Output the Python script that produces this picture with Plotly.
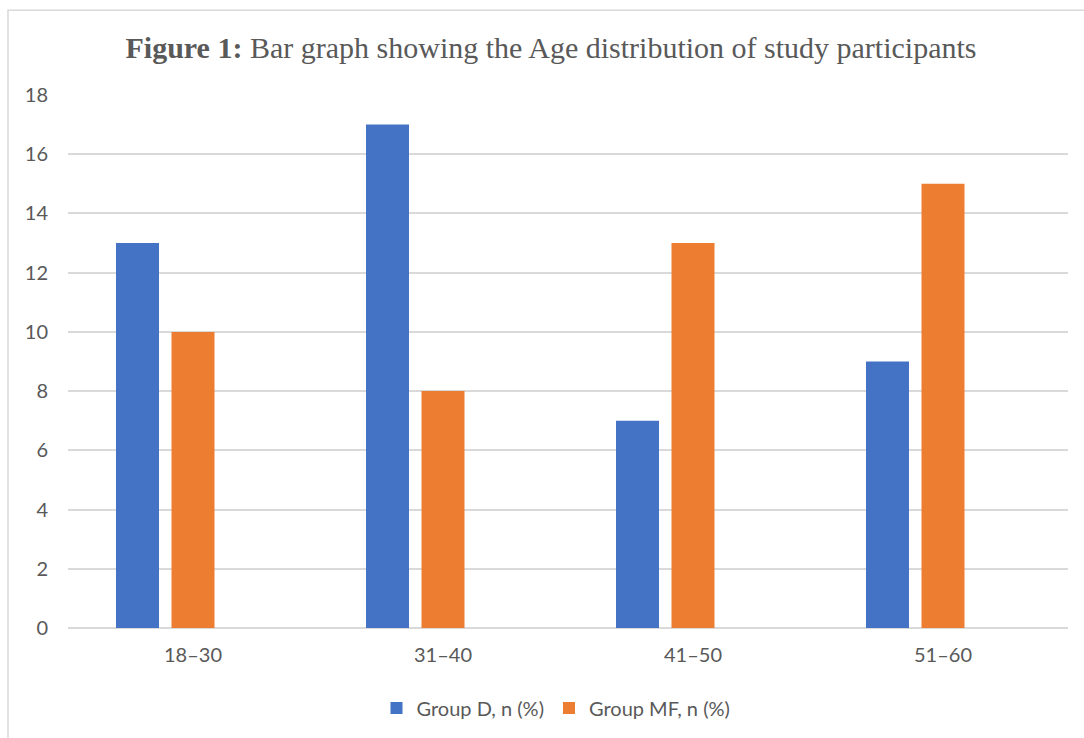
import plotly.graph_objects as go

# Age bands and participant counts per group
age_groups = ["18–30", "31–40", "41–50", "51–60"]
group_d = [13, 17, 7, 9]
group_mf = [10, 8, 13, 15]
y_ticks = [0, 2, 4, 6, 8, 10, 12, 14, 16, 18]

TEXT = "#595959"
GRID = "#d9d9d9"
BAR_W = 0.172

fig = go.Figure()
fig.add_trace(go.Bar(
    x=age_groups, y=group_d, name="Group D, n (%)",
    marker=dict(color="#4472C4", line=dict(width=0)),
    width=BAR_W, offset=-0.308,
))
fig.add_trace(go.Bar(
    x=age_groups, y=group_mf, name="Group MF, n (%)",
    marker=dict(color="#ED7D31", line=dict(width=0)),
    width=BAR_W, offset=-0.086,
))

fig.update_layout(
    width=1084, height=738,
    margin=dict(l=68, r=16, t=95, b=109),
    paper_bgcolor="white", plot_bgcolor="white",
    title=dict(
        text="<b>Figure 1:</b> Bar graph showing the Age distribution of study participants",
        font=dict(family="Liberation Serif", size=30, color=TEXT),
        x=0.483, xanchor="center", xref="paper",
        y=0.936, yanchor="middle", yref="container",
    ),
    font=dict(family="Lato", size=20, color=TEXT),
    showlegend=True,
    legend=dict(
        orientation="h", x=0.488, xanchor="center",
        y=-0.148, yanchor="middle",
        font=dict(family="Lato", size=20, color=TEXT),
        itemwidth=30, traceorder="normal",
    ),
    xaxis=dict(
        showgrid=False, showline=False, ticks="",
        tickfont=dict(family="Lato", size=20, color=TEXT),
        ticklabelstandoff=13,
    ),
    yaxis=dict(
        range=[0, 18], tickvals=y_ticks,
        showgrid=True, gridcolor=GRID, gridwidth=1.5,
        zeroline=True, zerolinecolor=GRID, zerolinewidth=1.5,
        showline=False, ticks="",
        tickfont=dict(family="Lato", size=20, color=TEXT),
        ticklabelstandoff=19,
    ),
    shapes=[dict(
        type="rect", xref="paper", yref="paper",
        x0=-0.06, x1=1.1, y0=-0.4, y1=1.159,
        line=dict(color=GRID, width=1.5), fillcolor="rgba(0,0,0,0)",
        layer="below",
    )],
)

fig.write_html("out.html")
